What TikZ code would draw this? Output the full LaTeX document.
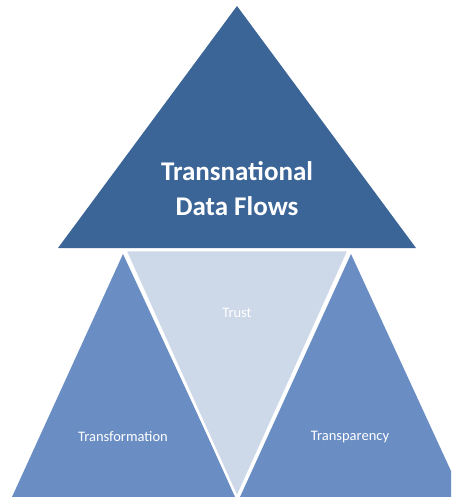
\documentclass[tikz,border=0pt]{standalone}
\usepackage{fontspec}
\setmainfont{Carlito}
\definecolor{topblue}{HTML}{3B6497}
\definecolor{sideblue}{HTML}{6A8EC4}
\definecolor{lightblue}{HTML}{CDD8E9}
\tikzset{
  lbl/.style={text=white, font=\fontsize{14.5}{17}\selectfont, inner sep=0pt},
  title/.style={text=white, font=\fontsize{27}{35}\selectfont\bfseries, align=center, inner sep=0pt}
}
\begin{document}
\begin{tikzpicture}[x=1pt,y=-1pt]
\useasboundingbox (0,0) rectangle (451,497);
\fill[white] (0,0) rectangle (451,497);
\begin{scope}
\clip (0,0) rectangle (451,497);
% side triangles
\fill[sideblue] (123,254) -- (12,497) -- (236,497) -- cycle;
\fill[sideblue] (351,254) -- (240,497) -- (463,497) -- cycle;
% middle inverted triangle
\filldraw[fill=lightblue, draw=white, line width=2.5pt, line join=miter] (125,250) -- (349,250) -- (237,498) -- cycle;
% top triangle
\fill[topblue] (237,6) -- (58,248) -- (416,248) -- cycle;
\end{scope}
\node[title] (tdf) at (237,189) {Transnational\\Data Flows};
\node[lbl] (trust) at (237,313) {Trust};
\node[lbl] (transf) at (123,437) {Transformation};
\node[lbl] (transp) at (350,437) {Transparency};
\end{tikzpicture}
\end{document}
